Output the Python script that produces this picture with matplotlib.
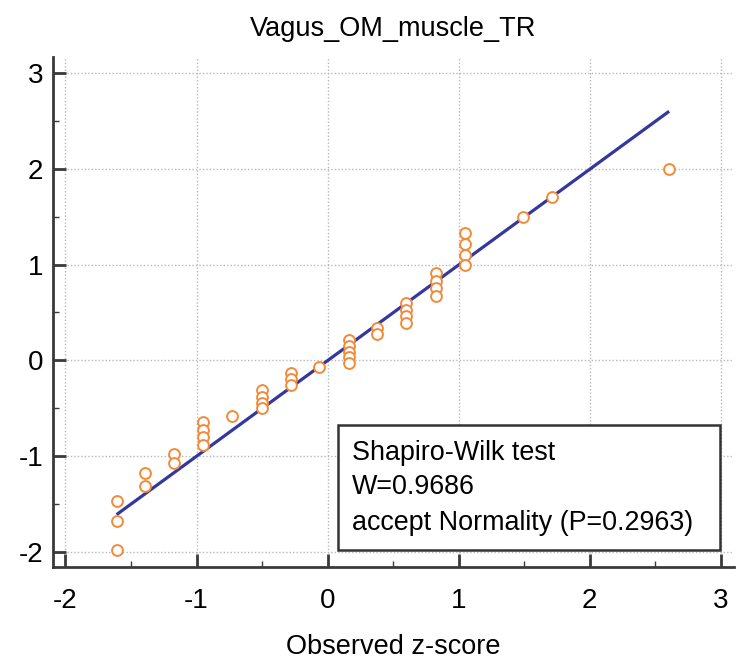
import matplotlib
matplotlib.use("Agg")
import matplotlib.pyplot as plt
from matplotlib.patches import Rectangle

plt.rcParams['font.family'] = ['Liberation Sans', 'DejaVu Sans']

title = "Vagus_OM_muscle_TR"
xlabel = "Observed z-score"
box_lines = ["Shapiro-Wilk test", "W=0.9686", "accept Normality (P=0.2963)"]

# observed z-scores (x) and expected normal quantiles (y)
obs_z = [-1.61, -1.61, -1.61,
         -1.39, -1.39,
         -1.17, -1.17,
         -0.95, -0.95, -0.95, -0.95,
         -0.73,
         -0.50, -0.50, -0.50, -0.50,
         -0.28, -0.28, -0.28,
         -0.065,
         0.165, 0.165, 0.165, 0.165, 0.165,
         0.38, 0.38,
         0.60, 0.60, 0.60, 0.60,
         0.83, 0.83, 0.83, 0.83,
         1.05, 1.05, 1.05, 1.05,
         1.49,
         1.71,
         2.605]
exp_q = [-1.47, -1.68, -1.98,
         -1.18, -1.31,
         -0.98, -1.07,
         -0.64, -0.73, -0.80, -0.88,
         -0.58,
         -0.31, -0.38, -0.445, -0.50,
         -0.13, -0.19, -0.255,
         -0.07,
         0.21, 0.15, 0.09, 0.035, -0.027,
         0.34, 0.275,
         0.60, 0.53, 0.46, 0.39,
         0.91, 0.83, 0.755, 0.67,
         1.33, 1.215, 1.10, 1.00,
         1.50,
         1.705,
         2.00]
line_x = [-1.61, 2.605]
line_y = [-1.61, 2.60]

xticks = [-2, -1, 0, 1, 2, 3]
yticks = [-2, -1, 0, 1, 2, 3]

fig = plt.figure(figsize=(7.56, 6.68), dpi=100)
ax = fig.add_axes([53/756, 1-567/668, 681/756, 510/668])

ax.set_xlim(-2.095, 3.10)
ax.set_ylim(-2.157, 3.167)

ax.plot(line_x, line_y, color='#34379b', lw=2.3, zorder=3, solid_capstyle='butt')
ax.plot(obs_z, exp_q, 'o', ls='none', ms=7.8, mfc='white', mec='#f28a3a', mew=1.4, zorder=4)

ax.set_xticks(xticks)
ax.set_yticks(yticks)
ax.set_xticks([-1.5, -0.5, 0.5, 1.5, 2.5], minor=True)
ax.set_yticks([-1.5, -0.5, 0.5, 1.5, 2.5], minor=True)
ax.set_xticklabels([str(t) for t in xticks])
ax.set_yticklabels([str(t) for t in yticks])

ax.grid(True, which='major', color='#b8b8b8', lw=1.0, ls=(0, (1, 1.5)), zorder=0)
for s in ['top', 'right']:
    ax.spines[s].set_visible(False)
for s in ['left', 'bottom']:
    ax.spines[s].set_color('#3a3a3a')
    ax.spines[s].set_linewidth(2.0)

ax.tick_params(which='major', direction='in', length=9.4, width=2.0, color='#3a3a3a',
               labelsize=20, labelcolor='black')
ax.tick_params(which='minor', direction='in', length=4, width=1.0, color='#3a3a3a')
ax.tick_params(axis='x', which='major', pad=15)
ax.tick_params(axis='y', which='major', pad=7)

# text box
ax.add_patch(Rectangle((0.4185, 0.0333), 0.9794-0.4185, 0.2784-0.0333, transform=ax.transAxes,
                       fill=True, facecolor='white', edgecolor='#333333', lw=1.8, zorder=5))
for yy, s in zip([0.2235, 0.157, 0.0863], box_lines):
    ax.text(0.439, yy, s, transform=ax.transAxes, fontsize=19.4, va='center', ha='left',
            color='black', zorder=6)

fig.text(393.5/756, 1-29/668, title, ha='center', va='center', fontsize=19.5)
fig.text(393.5/756, 1-647/668, xlabel, ha='center', va='center', fontsize=19.5)

fig.savefig("out.png", dpi=100)
